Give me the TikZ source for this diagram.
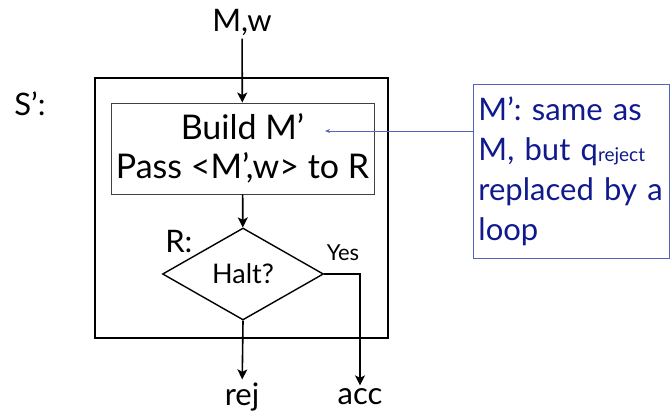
\documentclass[tikz,border=0pt]{standalone}
\usepackage{fontspec}
\setmainfont{Lato}
\usetikzlibrary{shapes.geometric,arrows.meta}
\definecolor{notetext}{RGB}{16,26,140}
\definecolor{noteline}{RGB}{84,100,190}

\begin{document}
\begin{tikzpicture}[
  line join=miter,
  x=1pt,
  y=-1pt,
  big/.style={font=\fontsize{31}{38}\selectfont},
  flow/.style={-{Stealth[length=10pt,width=10pt,inset=2.5pt]}, line width=1.6pt},
  stepbox/.style={draw=black!75, line width=0.9pt, minimum width=263pt, minimum height=91pt, align=center, font=\fontsize{34}{39}\selectfont},
  test/.style={draw, diamond, aspect=1.75, minimum width=161pt, minimum height=92pt, inner sep=0pt, line width=1.4pt, font=\fontsize{27}{30}\selectfont},
  note/.style={draw=noteline, line width=0.9pt, text=notetext, align=left, text width=186pt, inner sep=5pt, minimum height=174pt, anchor=north west, font=\fontsize{31}{40}\selectfont},
]

  \useasboundingbox (0,0) rectangle (670,414);

  \node[big] (mw) at (242,22) {M,w};
  \node[big] (sname) at (30,104) {S’:};
  \draw[line width=1.1pt] (95,78) rectangle (388,338);

  \node[stepbox] (build) at (242.5,148.5) {Build M’\\Pass <M’,w> to R};
  \node[test] (halt) at (243,274) {Halt?};
  \node[big, anchor=east] (rname) at (196,242) {R:};
  \node[font=\fontsize{22}{24}\selectfont] (yes) at (343,253) {Yes};

  \node[big] (rej) at (242,397) {rej};
  \node[big] (acc) at (360,397) {acc};

  \node[note] (info) at (473,84) {M’: same as\\M, but q{\fontsize{19}{19}\selectfont\raisebox{-1pt}{reject}}\\replaced by a\\loop};
  \coordinate (tip) at (325,131);

  \draw[flow] (mw) -- (build);
  \draw[flow] (build) -- (halt);
  \draw[flow] (halt.south) -- (rej);
  \draw[flow] (halt.east) -| (acc);
  \draw[noteline, line width=0.9pt, -{Stealth[length=5pt,width=4pt]}] (tip -| info.west) -- (tip);

\end{tikzpicture}
\end{document}
